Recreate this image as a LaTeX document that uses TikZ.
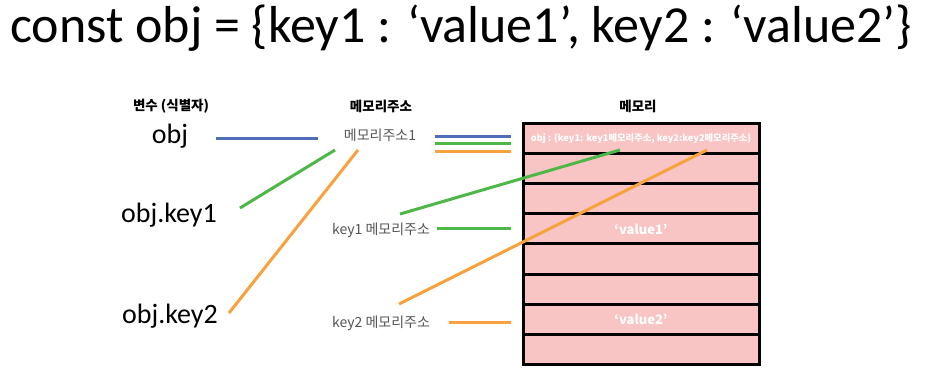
\documentclass[tikz,border=0pt]{standalone}
\usepackage{fontspec}
\setmainfont{Noto Sans CJK KR}
\newfontfamily\thinfont{Carlito}
\usetikzlibrary{positioning}
\definecolor{objblue}  {HTML}{4F6DB8}
\definecolor{keygreen} {HTML}{4DB848}
\definecolor{keyorange}{HTML}{F8A23E}
\definecolor{mempink}  {HTML}{F8C4C4}
\definecolor{addrgray} {HTML}{555555}
\tikzset{
  title/.style   = {font=\thinfont\fontsize{52}{58}\selectfont, inner sep=0pt},
  head/.style    = {font=\bfseries\fontsize{13.5}{16}\selectfont, inner sep=0pt},
  var/.style     = {font=\thinfont\fontsize{28}{32}\selectfont, inner sep=0pt},
  addr/.style    = {font=\fontsize{14}{16}\selectfont, text=addrgray, inner sep=0pt},
  cell/.style    = {draw=black, line width=3pt, fill=mempink,
                    minimum width=236pt, minimum height=30pt, inner sep=0pt},
  celltxt/.style = {font=\bfseries\fontsize{13}{15}\selectfont, text=white},
  smalltxt/.style= {font=\bfseries\fontsize{9.3}{11}\selectfont, text=white},
  link/.style    = {line width=3pt},
}

\begin{document}
\begin{tikzpicture}[x=1pt, y=-1pt]
  \useasboundingbox (0,0) rectangle (929,374);
  % title
  \node[title, anchor=base west] (code) at (10,43)
    {const obj = \{key1 : ‘value1’, key2 : ‘value2’\}};

  % column heads
  \node[head] (hvar)  at (171,106) {변수 (식별자)};
  \node[head] (haddr) at (381,106) {메모리주소};
  \node[head] (hmem)  at (638,106) {메모리};

  % variables
  \node[var, anchor=base] (obj)  at (170,144) {obj};
  \node[var, anchor=base] (key1) at (169,223) {obj.key1};
  \node[var, anchor=base] (key2) at (170,323) {obj.key2};

  % addresses
  \node[addr] (addr1)  at (380,135) {메모리주소1};
  \node[addr] (addrk1) at (381,230) {key1 메모리주소};
  \node[addr] (addrk2) at (381,323) {key2 메모리주소};

  % memory cells
  \foreach \i in {0,...,7}
    \node[cell] (row\i) at (641,139+30*\i) {};
  \node[smalltxt] (objval) at (row0) {obj : \{key1: key1메모리주소, key2:key2메모리주소\}};
  \node[celltxt] (val1) at (row3) {‘value1’};
  \node[celltxt] (val2) at (row6) {‘value2’};

  % line ends
  \coordinate (objR)   at (216,139);
  \coordinate (addrL)  at (318,139);
  \coordinate (k1R)    at (240,208);
  \coordinate (k1A)    at (335,150);
  \coordinate (k2R)    at (229,313);
  \coordinate (k2A)    at (358,150);
  \coordinate (k1mem)  at (400,214);
  \coordinate (k1top)  at (620,150);
  \coordinate (k2mem)  at (399,304);
  \coordinate (k2top)  at (707,150);
  \coordinate (bus1)   at (435,137);
  \coordinate (bus2)   at (435,144);
  \coordinate (bus3)   at (435,152);
  \coordinate (mem1)   at (511,137);
  \coordinate (mem2)   at (511,144);
  \coordinate (mem3)   at (511,152);
  \coordinate (k1out)  at (437,229);
  \coordinate (k1in)   at (511,229);
  \coordinate (k2out)  at (449,322);
  \coordinate (k2in)   at (511,322);

  % connectors
  \draw[link, objblue] (objR) -- (addrL);
  \draw[link, keygreen] (k1R) -- (k1A);
  \draw[link, keyorange] (k2R) -- (k2A);
  \draw[link, objblue]   (bus1) -- (mem1);
  \draw[link, keygreen]  (bus2) -- (mem2);
  \draw[link, keyorange] (bus3) -- (mem3);
  \draw[link, keygreen]  (k1out) -- (k1in);
  \draw[link, keyorange] (k2out) -- (k2in);
  \draw[link, keygreen]  (k1mem) -- (k1top);
  \draw[link, keyorange] (k2mem) -- (k2top);
\end{tikzpicture}
\end{document}
